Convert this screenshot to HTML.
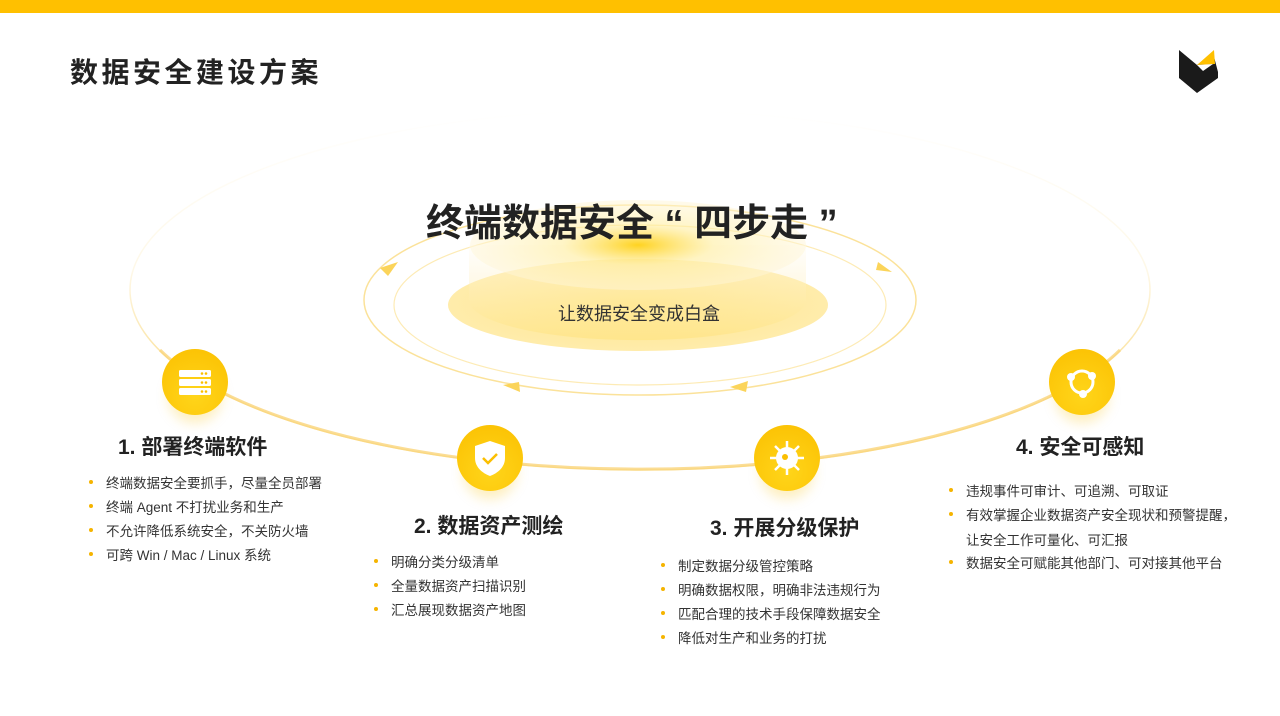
<!DOCTYPE html>
<html><head><meta charset="utf-8"><style>
*{margin:0;padding:0;box-sizing:border-box}
body{width:1280px;height:716px;background:#fff;position:relative;overflow:hidden;font-family:"Liberation Sans","Noto Sans CJK SC",sans-serif;color:#222}
.t{position:absolute;white-space:nowrap}
.h{font-size:21px;font-weight:bold;color:#222;transform:translateY(-50%)}
.li{position:absolute;font-size:13.5px;color:#333;white-space:nowrap;transform:translateY(-50%)}
.li:before{content:"";position:absolute;left:-17px;top:8px;width:4px;height:4px;border-radius:50%;background:#f5b400}
.ic{position:absolute;width:66px;height:66px;border-radius:50%;background:radial-gradient(circle at 50% 70%,#ffd51a,#fbbf00);box-shadow:0 14px 12px -6px rgba(250,190,0,.25)}
</style></head><body>
<div style="position:absolute;left:0;top:0;width:1280px;height:13px;background:#ffc000"></div>
<div class="t" style="left:70px;top:51px;font-size:28px;font-weight:bold;letter-spacing:3.5px">数据安全建设方案</div>
<svg style="position:absolute;left:1178px;top:46px" width="44" height="50"><polygon points="1,4 19,19 35,7 40,26 40,32 19,47 1,32" fill="#1a1a1a"/><polygon points="19,19 36,4 37,18" fill="#ffc000"/><polygon points="19,19 35,18 25,25" fill="#fff"/></svg>
<svg style="position:absolute;left:0;top:0" width="1280" height="716">
<defs>
<linearGradient id="cy" x1="0" x2="0" y1="0" y2="1"><stop offset="0" stop-color="#fffaf0" stop-opacity=".4"/><stop offset="1" stop-color="#ffe27a" stop-opacity=".8"/></linearGradient>
<radialGradient id="top" cx=".5" cy=".5" r=".5"><stop offset="0" stop-color="#ffd320"/><stop offset=".45" stop-color="#ffeea0" stop-opacity=".6"/><stop offset="1" stop-color="#fff6d8" stop-opacity=".5"/></radialGradient>
<radialGradient id="base" cx=".5" cy=".5" r=".5"><stop offset="0" stop-color="#ffe689"/><stop offset="1" stop-color="#ffe796" stop-opacity=".8"/></radialGradient>
<linearGradient id="fade" x1="0" x2="0" y1="0" y2="1"><stop offset="0" stop-color="#fbe3a0" stop-opacity="0"/><stop offset=".45" stop-color="#fbe3a0" stop-opacity=".25"/><stop offset=".7" stop-color="#fbe3a0" stop-opacity="1"/></linearGradient>
</defs>
<ellipse cx="640" cy="290" rx="510" ry="180" fill="none" stroke="url(#fade)" stroke-width="1.5"/>
<path d="M160 350 A510 180 0 0 0 1120 350" fill="none" stroke="#fad57a" stroke-width="3" opacity=".8"/>
<ellipse cx="640" cy="300" rx="276" ry="95" fill="none" stroke="#fbe29a" stroke-width="1.5"/>
<ellipse cx="640" cy="305" rx="246" ry="80" fill="none" stroke="#fdebb5" stroke-width="1.2"/>
<ellipse cx="638" cy="305" rx="190" ry="46" fill="url(#base)"/>
<path d="M469 245 L469 300 A168 40 0 0 0 806 300 L806 245 Z" fill="url(#cy)" opacity=".7"/>
<ellipse cx="638" cy="245" rx="168" ry="45" fill="url(#top)"/>
<polygon points="380,268 398,262 388,276" fill="#fbd45a"/>
<polygon points="878,262 892,272 876,270" fill="#fbd45a"/>
<polygon points="503,385 520,392 519,382" fill="#fbd45a"/>
<polygon points="730,387 748,381 746,392" fill="#fbd45a"/>
</svg>
<div class="t" style="left:426px;top:192px;font-size:38px;font-weight:bold;color:#222">终端数据安全 “ 四步走 ”</div>
<div class="t" style="left:558px;top:300px;font-size:18px;color:#333">让数据安全变成白盒</div>

<div class="ic" style="left:162px;top:349px"><svg width="66" height="66"><g fill="#fff"><rect x="17" y="21" width="32" height="7" rx="1.5"/><rect x="17" y="30" width="32" height="7" rx="1.5"/><rect x="17" y="39" width="32" height="7" rx="1.5"/></g><g fill="#fbbf00"><circle cx="40" cy="24.5" r="1.3"/><circle cx="44" cy="24.5" r="1.3"/><circle cx="40" cy="33.5" r="1.3"/><circle cx="44" cy="33.5" r="1.3"/><circle cx="40" cy="42.5" r="1.3"/><circle cx="44" cy="42.5" r="1.3"/></g></svg></div>
<div class="ic" style="left:457px;top:425px"><svg width="66" height="66"><path d="M33 16 L48 21 L48 33 C48 42 41 48 33 51 C25 48 18 42 18 33 L18 21 Z" fill="#fff"/><path d="M26 33 L31 38 L40 29" fill="none" stroke="#fbbf00" stroke-width="2.5"/></svg></div>
<div class="ic" style="left:754px;top:425px"><svg width="66" height="66"><circle cx="33" cy="33" r="11" fill="#fff"/><g stroke="#fff" stroke-width="2.5"><line x1="33" y1="16" x2="33" y2="50"/><line x1="16" y1="33" x2="50" y2="33"/><line x1="21" y1="21" x2="45" y2="45"/><line x1="45" y1="21" x2="21" y2="45"/></g><circle cx="31" cy="32" r="3" fill="#fbbf00"/></svg></div>
<div class="ic" style="left:1049px;top:349px"><svg width="66" height="66"><circle cx="33" cy="33" r="11" fill="none" stroke="#fff" stroke-width="3"/><circle cx="22" cy="28" r="4" fill="#fff"/><circle cx="43" cy="27" r="4" fill="#fff"/><circle cx="34" cy="45" r="4" fill="#fff"/></svg></div>

<div class="t h" style="left:118px;top:446px">1. 部署终端软件</div>
<div class="t h" style="left:414px;top:525px">2. 数据资产测绘</div>
<div class="t h" style="left:710px;top:527px">3. 开展分级保护</div>
<div class="t h" style="left:1016px;top:446px">4. 安全可感知</div>

<div class="li" style="left:106px;top:482px">终端数据安全要抓手，尽量全员部署</div>
<div class="li" style="left:106px;top:506px">终端 Agent 不打扰业务和生产</div>
<div class="li" style="left:106px;top:530px">不允许降低系统安全，不关防火墙</div>
<div class="li" style="left:106px;top:554px">可跨 Win / Mac / Linux 系统</div>

<div class="li" style="left:391px;top:561px">明确分类分级清单</div>
<div class="li" style="left:391px;top:585px">全量数据资产扫描识别</div>
<div class="li" style="left:391px;top:609px">汇总展现数据资产地图</div>

<div class="li" style="left:678px;top:565px">制定数据分级管控策略</div>
<div class="li" style="left:678px;top:589px">明确数据权限，明确非法违规行为</div>
<div class="li" style="left:678px;top:613px">匹配合理的技术手段保障数据安全</div>
<div class="li" style="left:678px;top:637px">降低对生产和业务的打扰</div>

<div class="li" style="left:966px;top:490px">违规事件可审计、可追溯、可取证</div>
<div class="li" style="left:966px;top:514px">有效掌握企业数据资产安全现状和预警提醒，</div>
<div class="t" style="left:966px;top:529px;font-size:13.5px;color:#333">让安全工作可量化、可汇报</div>
<div class="li" style="left:966px;top:562px">数据安全可赋能其他部门、可对接其他平台</div>
</body></html>
